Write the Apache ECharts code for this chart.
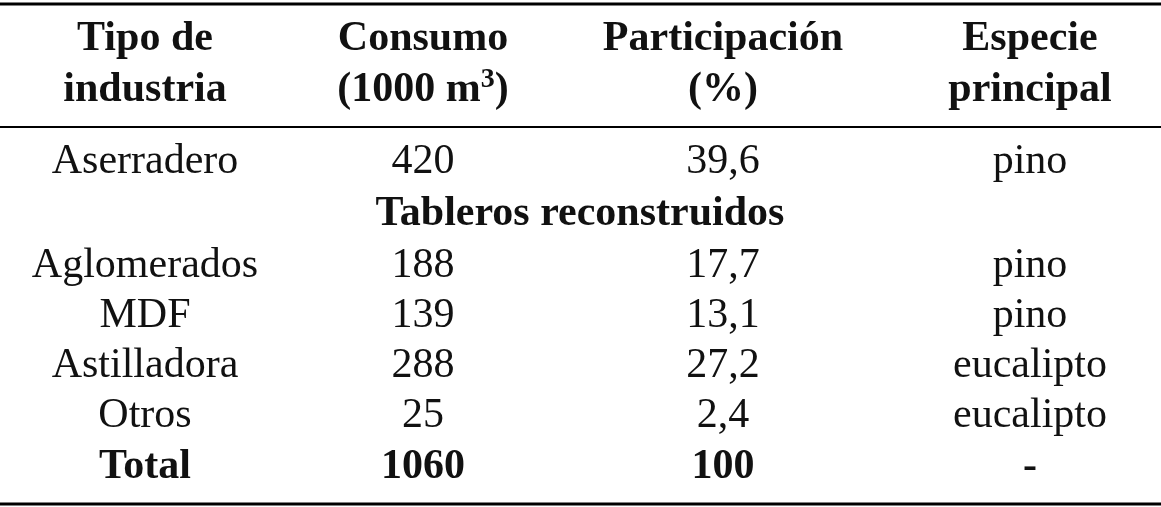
<!DOCTYPE html>
<html><head><meta charset="utf-8">
<script src="https://cdn.jsdelivr.net/npm/echarts@6/dist/echarts.min.js"></script>
<style>html,body{margin:0;background:#fff}#c{width:1161px;height:507px}</style>
</head><body><div id="c"></div>
<script>
var headers = [['Tipo de', 'industria'], ['Consumo', '(1000 m{s|3})'], ['Participación', '(%)'], ['Especie', 'principal']];
var industries = ['Aserradero', 'Aglomerados', 'MDF', 'Astilladora', 'Otros', 'Total'];
var consumo = ['420', '188', '139', '288', '25', '1060'];
var participacion = ['39,6', '17,7', '13,1', '27,2', '2,4', '100'];
var especie = ['pino', 'pino', 'pino', 'eucalipto', 'eucalipto', '-'];
var groupLabel = 'Tableros reconstruidos';

var colX = [145, 423, 723, 1030];
var font = 'Liberation Serif';
var chart = echarts.init(document.getElementById('c'));
var els = [];
function txt(x, y, s, bold) {
    els.push({ type: 'text', x: x, y: y, style: {
        text: s, font: (bold ? 'bold ' : '') + '42px "' + font + '"', fill: '#111',
        align: 'center', verticalAlign: 'middle',
        rich: { s: { fontSize: 28, fontWeight: 'bold', fontFamily: font, verticalAlign: 'top', padding: [0, 0, 20, 0] } }
    } });
}
function rule(y, w) {
    els.push({ type: 'line', shape: { x1: 0, y1: y, x2: 1161, y2: y }, style: { stroke: '#000', lineWidth: w } });
}
rule(4, 3); rule(127, 2); rule(504, 3);
headers.forEach(function (h, i) { txt(colX[i], 39, h[0], true); txt(colX[i], 90, h[1], true); });
var rowY = [162, 266, 316, 366, 416, 467];
txt(580, 214, groupLabel, true);
industries.forEach(function (name, i) {
    var b = i === industries.length - 1;
    txt(colX[0], rowY[i], name, b);
    txt(colX[1], rowY[i], consumo[i], b);
    txt(colX[2], rowY[i], participacion[i], b);
    txt(colX[3], rowY[i], especie[i], b);
});
chart.setOption({ animation: false, backgroundColor: '#fff', graphic: { elements: els } });
</script></body></html>
